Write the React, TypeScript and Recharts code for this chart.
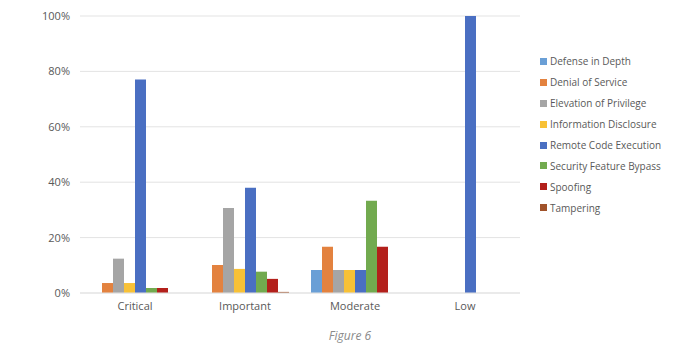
import React from "react";
import { BarChart, Bar, XAxis, YAxis, CartesianGrid } from "recharts";

const categories = ["Critical", "Important", "Moderate", "Low"];

const seriesNames = [
  "Defense in Depth",
  "Denial of Service",
  "Elevation of Privilege",
  "Information Disclosure",
  "Remote Code Execution",
  "Security Feature Bypass",
  "Spoofing",
  "Tampering",
];

const seriesColors = [
  "#6A9FD6",
  "#E3823F",
  "#A5A5A5",
  "#F8C136",
  "#4A6FC2",
  "#72AA4F",
  "#B3201B",
  "#A0522A",
];

// share of each category, per vulnerability type (0..1)
const defenseInDepth = [0, 0, 0.083, 0];
const denialOfService = [0.036, 0.101, 0.167, 0];
const elevationOfPrivilege = [0.124, 0.307, 0.083, 0];
const informationDisclosure = [0.036, 0.087, 0.083, 0];
const remoteCodeExecution = [0.771, 0.38, 0.083, 1];
const securityFeatureBypass = [0.018, 0.077, 0.333, 0];
const spoofing = [0.018, 0.051, 0.167, 0];
const tampering = [0, 0.004, 0, 0];

const seriesValues = [
  defenseInDepth,
  denialOfService,
  elevationOfPrivilege,
  informationDisclosure,
  remoteCodeExecution,
  securityFeatureBypass,
  spoofing,
  tampering,
];

const yTicks = [0, 0.2, 0.4, 0.6, 0.8, 1];

const data = categories.map((cat, i) => {
  const row: Record<string, string | number> = { name: cat };
  seriesNames.forEach((s, j) => {
    row[s] = seriesValues[j][i];
  });
  return row;
});

const FONT = "'Open Sans', sans-serif";

const LegendBox = () => (
  <div
    style={{
      position: "absolute",
      left: 540,
      top: 51,
      fontFamily: FONT,
      fontSize: 10,
      color: "#595959",
    }}
  >
    {seriesNames.map((name, i) => (
      <div
        key={name}
        style={{ display: "flex", alignItems: "center", height: 20.9 }}
      >
        <span
          style={{
            width: 7,
            height: 7,
            background: seriesColors[i],
            marginRight: 3,
            display: "inline-block",
          }}
        />
        <span>{name}</span>
      </div>
    ))}
  </div>
);

export default function App() {
  return (
    <div
      style={{
        position: "absolute",
        left: 0,
        top: 0,
        width: 700,
        height: 351,
        background: "#fff",
      }}
    >
      <BarChart
        width={700}
        height={351}
        data={data}
        margin={{ top: 16, right: 180, left: 0, bottom: 28 }}
        barSize={11}
        barGap={0}
      >
        <CartesianGrid vertical={false} stroke="#E3E3E3" />
        <XAxis
          dataKey="name"
          height={30}
          tickLine={false}
          axisLine={{ stroke: "#E3E3E3" }}
          tickSize={0}
          tickMargin={9}
          tick={{ fill: "#595959", fontSize: 11, fontFamily: FONT }}
        />
        <YAxis
          width={80}
          domain={[0, 1]}
          ticks={yTicks}
          axisLine={false}
          tickLine={false}
          tickSize={0}
          tickMargin={10}
          tickFormatter={(v: number) => `${Math.round(v * 100)}%`}
          tick={{ fill: "#595959", fontSize: 11, fontFamily: FONT }}
        />
        {seriesNames.map((name, i) => (
          <Bar
            key={name}
            dataKey={name}
            fill={seriesColors[i]}
            isAnimationActive={false}
          />
        ))}
      </BarChart>
      <LegendBox />
      <div
        style={{
          position: "absolute",
          left: 0,
          width: 700,
          top: 327,
          textAlign: "center",
          fontFamily: FONT,
          fontStyle: "italic",
          fontSize: 12,
          color: "#8a8a8a",
        }}
      >
        Figure 6
      </div>
    </div>
  );
}
